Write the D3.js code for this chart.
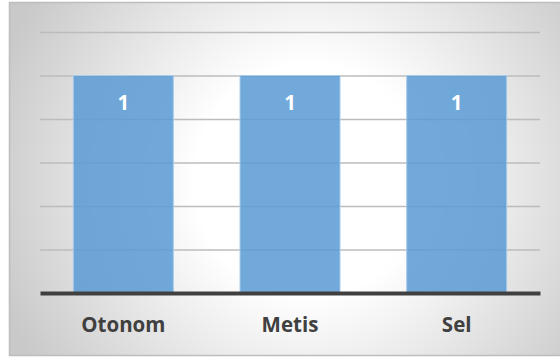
<!DOCTYPE html>
<html>
<head>
<meta charset="utf-8">
<script src="https://cdn.jsdelivr.net/npm/d3@7"></script>
<style>
  html, body { margin: 0; padding: 0; background: #ffffff; }
  svg { display: block; }
  text { font-family: "Open Sans", "Noto Sans", sans-serif; font-weight: 700; }
</style>
</head>
<body>
<script>
// Chart data
const categories = ["Otonom", "Metis", "Sel"];
const values = [1, 1, 1];
const valueLabels = ["1", "1", "1"];
const yTicks = [0, 0.2, 0.4, 0.6, 0.8, 1.0, 1.2];

const W = 560, H = 358;
const plot = { left: 40, right: 540, top: 32, bottom: 293 };

const svg = d3.select("body").append("svg")
  .attr("width", W).attr("height", H);

// Frame background: soft radial shading, light in the middle and grey toward the edges
const defs = svg.append("defs");
const grad = defs.append("radialGradient")
  .attr("id", "bg").attr("gradientUnits", "userSpaceOnUse")
  .attr("cx", 310).attr("cy", 180).attr("r", 330)
  .attr("fx", 310).attr("fy", 180);
grad.append("stop").attr("offset", "0%").attr("stop-color", "#ffffff");
grad.append("stop").attr("offset", "35%").attr("stop-color", "#ffffff");
grad.append("stop").attr("offset", "100%").attr("stop-color", "#c9c9c9");

svg.append("rect")
  .attr("x", 9.5).attr("y", 2.5).attr("width", 556).attr("height", 353)
  .attr("fill", "url(#bg)")
  .attr("stroke", "#bdbdbd").attr("stroke-width", 1.5);

const x = d3.scaleBand()
  .domain(categories)
  .range([plot.left, plot.right])
  .paddingInner(0.4)
  .paddingOuter(0.2);

const y = d3.scaleLinear()
  .domain([0, 1.2])
  .range([plot.bottom, plot.top]);

// Horizontal gridlines (no tick labels)
const yAxis = d3.axisLeft(y)
  .tickValues(yTicks.slice(1))
  .tickSize(-(plot.right - plot.left))
  .tickFormat("");
const gy = svg.append("g")
  .attr("transform", `translate(${plot.left},0)`)
  .call(yAxis);
gy.select(".domain").remove();
gy.selectAll(".tick line")
  .attr("stroke", "#bcbcbc").attr("stroke-width", 1.4);

// Bars
svg.append("g").selectAll("rect")
  .data(values)
  .join("rect")
  .attr("x", (d, i) => x(categories[i]))
  .attr("y", d => y(d))
  .attr("width", x.bandwidth())
  .attr("height", d => y(0) - y(d))
  .attr("fill", "#5b9bd5")
  .attr("fill-opacity", 0.86)
  .attr("stroke", "#a9cbea")
  .attr("stroke-width", 1);

// Value labels inside the bars
svg.append("g").selectAll("text")
  .data(values)
  .join("text")
  .attr("x", (d, i) => x(categories[i]) + x.bandwidth() / 2)
  .attr("y", d => y(d) + 34)
  .attr("text-anchor", "middle")
  .attr("font-size", 20.5)
  .attr("fill", "#ffffff")
  .text((d, i) => valueLabels[i]);

// Category axis
const xAxis = d3.axisBottom(x).tickSize(0).tickPadding(0);
const gx = svg.append("g")
  .attr("transform", `translate(0,${plot.bottom})`)
  .call(xAxis);
gx.select(".domain")
  .attr("stroke", "#404040").attr("stroke-width", 4);
gx.selectAll(".tick text")
  .attr("dy", 0)
  .attr("y", 38.5)
  .attr("font-size", 20.5)
  .attr("font-family", "'Open Sans', 'Noto Sans', sans-serif")
  .attr("font-weight", 700)
  .attr("fill", "#404040");
</script>
</body>
</html>
